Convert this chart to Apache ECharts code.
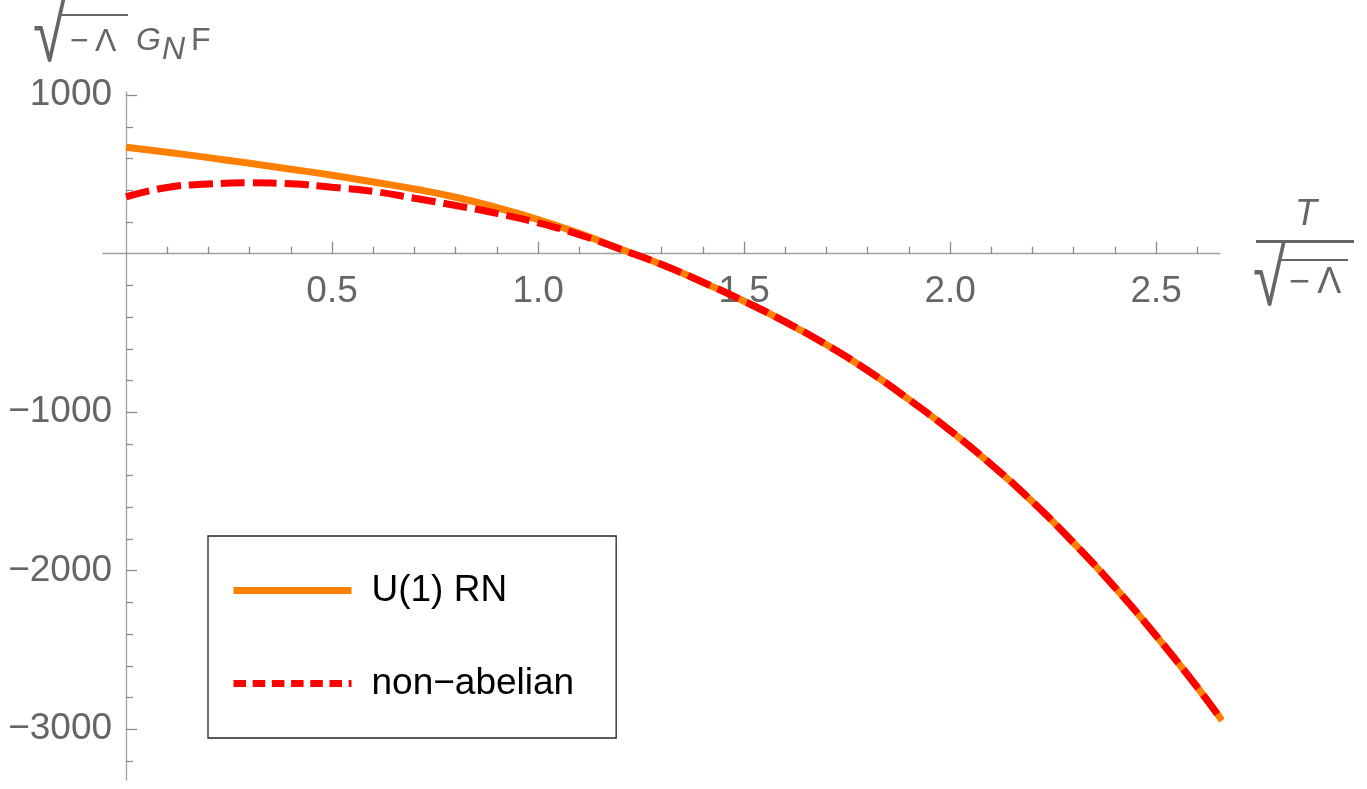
<!DOCTYPE html>
<html><head><meta charset="utf-8">
<script src="https://cdn.jsdelivr.net/npm/echarts@6/dist/echarts.min.js"></script>
<style>html,body{margin:0;padding:0;background:#fff}#c{width:1367px;height:789px}</style>
</head><body><div id="c"></div>
<script>
// ---- data ----
const tValues = [0,0.1,0.2,0.3,0.4,0.5,0.6,0.7,0.8,0.9,1.0,1.1,1.2,1.3,1.4,1.5,1.6,1.7,1.8,1.9,2.0,2.1,2.2,2.3,2.4,2.5,2.6,2.66];
const u1RN = [672,640,606,570,533,495,452,408,356,290,215,128,30,-68,-180,-300,-430,-575,-737,-920,-1115,-1330,-1565,-1825,-2105,-2410,-2735,-2945];
const nonAbelian = [358,418,439,447,441,419,393,350,304,254,195,120,28,-68,-180,-300,-430,-575,-737,-920,-1115,-1330,-1565,-1825,-2105,-2410,-2735,-2945];
const seriesNames = ['U(1) RN', 'non\u2212abelian'];
const xMajorTicks = [0.5,1.0,1.5,2.0,2.5];
const xMinorTicks = [0.1,0.2,0.3,0.4,0.6,0.7,0.8,0.9,1.1,1.2,1.3,1.4,1.6,1.7,1.8,1.9,2.1,2.2,2.3,2.4,2.6];
const yMajorTicks = [-3000,-2000,-1000,1000];
const yMinorTicks = [-3200,-2800,-2600,-2400,-2200,-1800,-1600,-1400,-1200,-800,-600,-400,-200,200,400,600,800];

const X_MIN = -0.056, X_MAX = 2.655, Y_MIN = -3320, Y_MAX = 1020;
const GRID = {left: 103, right: 147, top: 92, bottom: 9};
const W = 1367, H = 789;
const gridW = W - GRID.left - GRID.right, gridH = H - GRID.top - GRID.bottom;
// axes cross at the origin: shift each axis from the grid edge to the zero of the other axis
const xAxisOffset = -gridH * (0 - Y_MIN) / (Y_MAX - Y_MIN);
const yAxisOffset = -gridW * (0 - X_MIN) / (X_MAX - X_MIN);

const FONT = '"Liberation Sans", Arial, sans-serif';
const AXIS_COLOR = '#a0a0a0', TICK_COLOR = '#8a8a8a', LABEL_COLOR = '#666666';

const chart = echarts.init(document.getElementById('c'), null, {renderer: 'canvas'});

function xAxisDef(ticks, len, showLine, labels) {
  return {
    type: 'value', min: X_MIN, max: X_MAX, position: 'bottom', offset: xAxisOffset,
    axisLine: {show: showLine, onZero: false, lineStyle: {color: AXIS_COLOR, width: 1.3}},
    axisTick: {show: true, inside: true, length: len, customValues: ticks, lineStyle: {color: TICK_COLOR, width: 1.3}},
    axisLabel: labels ? {show: true, customValues: ticks, formatter: v => v.toFixed(1), margin: 20,
      color: LABEL_COLOR, fontSize: 37, fontFamily: FONT} : {show: false},
    splitLine: {show: false}
  };
}
function yAxisDef(ticks, len, showLine, labels) {
  return {
    type: 'value', min: Y_MIN, max: Y_MAX, position: 'left', offset: yAxisOffset,
    axisLine: {show: showLine, onZero: false, lineStyle: {color: AXIS_COLOR, width: 1.3}},
    axisTick: {show: true, inside: true, length: len, customValues: ticks, lineStyle: {color: TICK_COLOR, width: 1.3}},
    axisLabel: labels ? {show: true, customValues: ticks,
      formatter: v => (v < 0 ? '\u2212' + Math.abs(v) : String(v)), margin: 14,
      color: LABEL_COLOR, fontSize: 37, fontFamily: FONT} : {show: false},
    splitLine: {show: false}
  };
}

const option = {
  animation: false,
  backgroundColor: '#ffffff',
  grid: Object.assign({containLabel: false, outerBoundsMode: 'none'}, GRID),
  xAxis: [xAxisDef(xMajorTicks, 12, true, true), xAxisDef(xMinorTicks, 7, false, false)],
  yAxis: [yAxisDef(yMajorTicks, 11, true, true), yAxisDef(yMinorTicks, 7, false, false)],
  legend: {
    orient: 'vertical', left: 208, top: 536,
    padding: [36, 42, 36, 22], itemGap: 56, itemWidth: 118, itemHeight: 7,
    backgroundColor: '#ffffff', borderColor: '#222222', borderWidth: 1.3, borderRadius: 0,
    selectedMode: false,
    textStyle: {fontSize: 37, color: '#000000', fontFamily: FONT, padding: [0, 0, 0, 15]},
    lineStyle: {width: 7},
    itemStyle: {opacity: 0},
    data: [{name: seriesNames[0]}, {name: seriesNames[1], lineStyle: {type: [12.5, 6.7], width: 7}}]
  },
  series: [
    {name: seriesNames[0], type: 'line', xAxisIndex: 0, yAxisIndex: 0, symbol: 'none', smooth: 0.5,
      data: tValues.map((t, i) => [t, u1RN[i]]),
      lineStyle: {color: '#ff8000', width: 7}, itemStyle: {color: '#ff8000'}, emphasis: {disabled: true}, z: 2},
    {name: seriesNames[1], type: 'line', xAxisIndex: 0, yAxisIndex: 0, symbol: 'none', smooth: 0.5,
      data: tValues.map((t, i) => [t, nonAbelian[i]]),
      lineStyle: {color: '#ff0000', width: 7, type: [24, 8]}, itemStyle: {color: '#ff0000'}, emphasis: {disabled: true}, z: 3}
  ],
  graphic: [
    // y-axis name: sqrt(-Λ) G_N F
    {type: 'text', x: 33, y: 39, scaleX: 1.3, scaleY: 1.75, style: {text: '\u221A', font: '46px ' + FONT, fill: LABEL_COLOR, verticalAlign: 'middle'}},
    {type: 'rect', shape: {x: 61, y: 14, width: 67, height: 2}, style: {fill: LABEL_COLOR}},
    {type: 'text', x: 70, y: 42, style: {text: '\u2212\u2009\u039B', font: '32px ' + FONT, fill: LABEL_COLOR, verticalAlign: 'middle'}},
    {type: 'text', x: 136, y: 41, style: {text: 'G', font: 'italic 32px ' + FONT, fill: LABEL_COLOR, verticalAlign: 'middle'}},
    {type: 'text', x: 162, y: 50, style: {text: 'N', font: 'italic 32px ' + FONT, fill: LABEL_COLOR, verticalAlign: 'middle'}},
    {type: 'text', x: 191, y: 41, style: {text: 'F', font: '32px ' + FONT, fill: LABEL_COLOR, verticalAlign: 'middle'}},
    // x-axis name: T / sqrt(-Λ)
    {type: 'text', x: 1306, y: 215, style: {text: 'T', font: 'italic 36px ' + FONT, fill: LABEL_COLOR, align: 'center', verticalAlign: 'middle'}},
    {type: 'rect', shape: {x: 1256, y: 240, width: 98, height: 3}, style: {fill: LABEL_COLOR}},
    {type: 'text', x: 1253, y: 283, scaleX: 1.3, scaleY: 1.75, style: {text: '\u221A', font: '46px ' + FONT, fill: LABEL_COLOR, verticalAlign: 'middle'}},
    {type: 'rect', shape: {x: 1280, y: 259, width: 68, height: 2}, style: {fill: LABEL_COLOR}},
    {type: 'text', x: 1289, y: 283, style: {text: '\u2212\u2009\u039B', font: '36px ' + FONT, fill: LABEL_COLOR, verticalAlign: 'middle'}}
  ]
};
chart.setOption(option);
</script>
</body></html>
